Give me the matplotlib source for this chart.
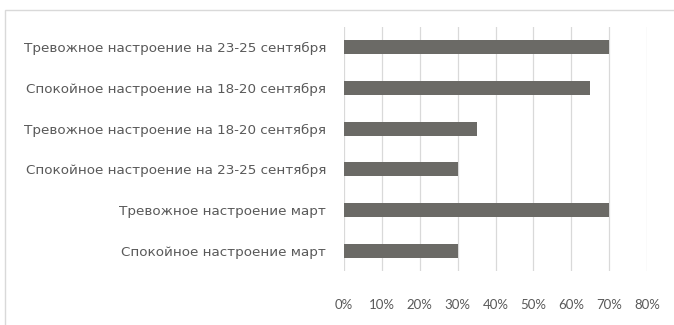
import matplotlib.pyplot as plt
from matplotlib.patches import Rectangle
from matplotlib.ticker import PercentFormatter

plt.rcParams['font.family'] = ['Lato', 'DejaVu Sans']

categories = [
    "Спокойное настроение март",
    "Тревожное настроение март",
    "Спокойное настроение на 23-25 сентября",
    "Тревожное настроение на 18-20 сентября",
    "Спокойное настроение на 18-20 сентября",
    "Тревожное настроение на 23-25 сентября",
]
values = [30, 70, 30, 35, 65, 70]
x_ticks = [0, 10, 20, 30, 40, 50, 60, 70, 80]

fig = plt.figure(figsize=(6.74, 3.25), dpi=100)
ax = fig.add_axes([344 / 674, 54 / 325, 303 / 674, 244 / 325])

# outer chart border (clipped on the right and bottom)
fig.patches.append(Rectangle((5 / 674, -0.1), 1.2, (315 / 325) + 0.1,
                             transform=fig.transFigure, fill=False,
                             edgecolor='#d9d9d9', linewidth=1))

ax.barh(range(len(categories)), values, height=0.35, color='#6b6a66', zorder=3)

ax.set_xlim(0, 80)
ax.set_ylim(-0.5, len(categories) - 0.5)
ax.set_xticks(x_ticks)
ax.xaxis.set_major_formatter(PercentFormatter(decimals=0))
ax.set_yticks(range(len(categories)))
ax.set_yticklabels(categories, family=['DejaVu Sans'], fontsize=9.7)

ax.grid(axis='x', color='#d9d9d9', linewidth=0.9, zorder=0)
for s in ax.spines.values():
    s.set_visible(False)
ax.tick_params(axis='both', length=0, colors='#595959')
ax.tick_params(axis='x', pad=20, labelsize=9.5)
ax.tick_params(axis='y', pad=13)

fig.savefig('out.png', dpi=100)
